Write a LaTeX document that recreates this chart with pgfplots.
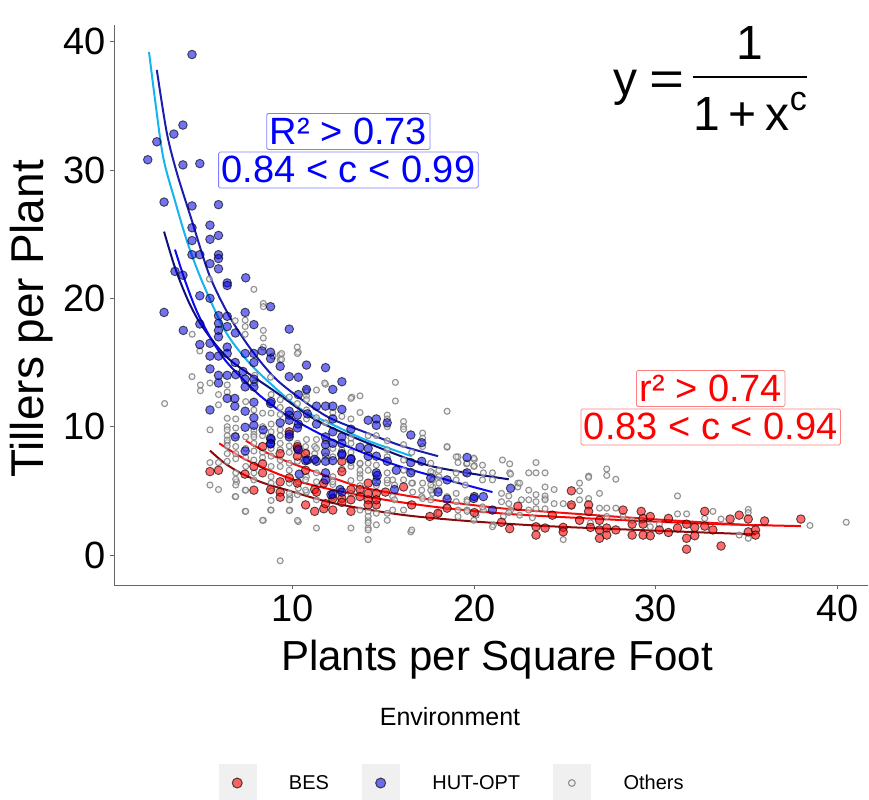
\RequirePackage{fix-cm}
\documentclass[border=0pt]{standalone}
\usepackage{fontspec}
\setmainfont{Liberation Sans}
\usepackage{pgfplots}
\usepackage{pgfplotstable}
\pgfplotsset{compat=1.18}

\definecolor{cyanline}{HTML}{14B4F0}
\definecolor{navytop}{HTML}{1C1CB0}
\definecolor{navyL}{HTML}{10107A}
\definecolor{blueL}{HTML}{0A0AF0}
\definecolor{redA}{HTML}{FF0000}
\definecolor{redB}{HTML}{F01010}
\definecolor{redD}{HTML}{8C0A0A}

\pgfplotstableread{
x y
2.0 30.8
2.5 32.2
3.44 32.8
3.94 33.5
3.94 30.4
4.87 30.5
4.44 39.0
2.9 27.5
4.44 27.2
5.9 27.3
4.44 25.5
5.43 25.7
4.44 24.5
5.43 24.6
5.9 24.9
4.44 23.4
4.87 23.4
5.9 23.4
5.9 23.1
5.43 22.7
5.9 22.3
3.5 22.1
3.94 21.8
6.38 21.2
6.38 21.0
7.4 21.6
4.87 20.2
5.43 20.0
8.77 19.35
2.9 18.9
7.37 18.9
5.9 18.65
6.38 18.6
4.87 18.0
5.9 18.05
7.85 17.95
9.8 17.6
3.96 17.5
5.9 17.5
6.38 17.8
6.83 17.3
5.9 17.0
4.87 16.4
5.43 16.5
6.38 16.2
5.43 15.5
5.9 15.5
6.38 15.7
6.82 15.0
7.37 15.7
7.85 15.7
7.85 15.0
8.3 15.9
8.77 15.8
8.77 15.3
9.3 14.7
11.8 14.6
10.75 14.8
5.43 14.5
5.9 14.0
6.38 14.0
6.85 14.05
7.25 14.3
7.37 13.7
7.85 13.7
9.8 13.9
10.3 13.85
12.7 13.5
12.2 12.9
7.37 13.1
7.85 13.1
5.9 13.4
10.75 12.9
6.38 12.2
6.8 12.2
6.8 11.6
8.77 11.8
10.3 12.5
5.43 11.3
7.37 11.2
7.85 11.9
8.8 11.95
7.85 10.7
7.85 10.1
9.8 10.9
9.8 10.5
9.8 11.2
9.3 10.3
10.3 10.2
10.25 10.9
10.8 11.0
11.3 11.6
11.3 10.2
11.8 11.6
12.2 11.6
12.2 10.6
12.7 11.35
14.15 10.5
14.6 10.6
15.2 10.3
14.6 10.1
13.2 9.8
7.37 9.95
6.82 9.2
8.77 9.1
8.77 8.7
8.36 9.75
8.8 9.0
7.37 8.1
9.8 9.2
9.8 9.4
10.25 9.9
10.3 8.2
10.8 7.4
11.3 7.3
11.8 9.2
11.8 8.6
11.8 8.0
11.8 7.3
12.2 9.6
12.2 8.7
12.7 9.2
12.7 8.7
12.7 7.9
13.2 7.5
13.7 8.4
14.15 8.3
14.15 7.7
14.6 7.7
15.2 7.3
14.6 6.4
14.6 5.7
15.7 6.6
16.5 9.35
17.1 8.75
16.5 7.2
16.5 6.4
17.1 7.3
17.6 6.0
18.0 4.9
18.5 5.85
18.5 4.35
19.6 7.6
19.6 6.4
20.0 4.55
20.5 4.55
21.0 3.5
22.0 5.2
15.6 5.1
12.1 4.7
12.6 5.1
10.35 6.3
10.7 7.35
11.2 7.45
12.2 7.35
12.7 7.8
13.2 7.45
14.65 6.2
11.8 6.4
11.8 5.85
12.2 4.75
12.7 4.9
8.77 8.65
19.97 4.4
}\bluedata

\pgfplotstableread{
x y
5.43 6.5
5.9 6.6
7.36 6.3
7.85 6.9
8.33 7.1
8.33 6.4
8.33 8.45
9.3 7.9
9.3 5.7
9.3 4.9
9.3 4.5
10.25 7.7
10.25 5.6
10.7 7.9
10.7 6.6
10.7 3.9
7.85 5.05
8.77 5.1
9.8 6.0
9.8 9.6
10.25 8.3
11.2 5.1
11.2 3.4
11.7 3.6
12.2 3.5
12.7 6.5
12.7 4.4
13.2 5.1
13.2 3.4
13.7 5.1
13.7 4.55
14.15 5.6
14.15 4.3
14.15 3.9
14.6 3.9
12.7 7.3
11.7 5.6
12.2 4.4
11.3 4.9
11.8 4.0
12.7 4.1
13.2 4.3
14.15 4.8
14.6 4.8
14.6 4.3
15.1 4.9
16.1 5.3
16.55 3.9
17.55 3.0
18.0 3.25
18.5 3.65
20.0 3.3
21.5 2.55
21.95 2.05
22.4 3.8
23.4 2.2
23.4 1.55
23.9 2.1
24.3 3.1
24.9 2.15
24.9 1.8
25.35 5.0
25.35 3.9
25.8 2.7
26.3 3.9
26.3 3.4
26.4 2.15
26.9 2.7
26.9 1.95
26.9 1.3
27.3 2.1
27.3 1.55
27.8 1.95
28.2 3.5
28.7 2.4
28.7 1.55
29.2 3.4
29.3 2.85
29.3 2.4
29.3 1.55
29.7 3.0
29.7 1.5
30.2 1.95
30.7 2.85
30.7 1.75
31.2 2.1
31.7 2.4
31.7 1.3
31.7 0.45
32.15 2.15
32.15 1.5
32.7 3.4
32.7 2.25
33.15 1.95
33.6 0.7
34.1 2.8
34.6 3.1
35.1 2.8
35.1 1.8
35.5 1.95
35.5 1.55
36.0 2.65
38.0 2.8
10.25 8.45
}\reddata

\pgfplotstableread{
x y
2.93 11.8
4.45 17.2
4.44 13.9
4.87 15.9
4.9 13.25
4.9 12.8
5.4 21.5
5.43 13.4
5.43 9.75
5.9 12.5
5.9 11.7
6.38 13.25
6.38 12.7
6.38 10.65
6.38 10.0
6.38 9.75
6.38 9.3
6.38 8.75
6.85 10.6
6.85 9.9
6.85 9.3
6.85 8.45
6.82 18.25
7.37 18.3
7.37 17.8
7.37 17.2
7.4 11.95
7.4 9.2
7.85 20.7
7.85 11.3
7.85 9.7
7.85 9.4
7.85 9.2
7.9 14.0
7.9 13.4
8.37 19.6
8.37 19.35
8.37 17.5
8.37 16.9
8.37 16.2
8.33 11.05
8.33 10.0
8.33 9.3
8.8 11.05
8.8 10.2
8.8 9.6
8.77 13.85
8.9 15.5
9.3 11.5
9.3 10.95
9.3 9.75
9.3 9.3
9.3 8.7
9.3 15.6
9.3 15.2
9.38 15.7
9.38 15.25
10.24 16.2
10.3 15.8
10.25 15.7
10.75 12.85
10.75 12.4
10.75 12.1
10.75 11.3
11.3 12.85
11.8 13.3
11.75 13.4
13.25 12.3
13.7 12.4
13.2 12.2
15.65 13.45
15.65 12.0
18.5 11.2
18.5 8.4
19.1 7.65
19.1 7.2
19.57 7.1
20.0 7.45
20.0 6.95
20.5 6.4
21.55 7.4
21.95 7.1
21.95 6.4
22.4 5.6
22.4 5.3
23.0 6.4
23.4 7.2
23.4 6.4
23.9 6.4
23.9 5.3
17.7 6.4
17.7 5.85
17.7 5.3
17.7 4.8
17.15 9.5
17.15 9.1
17.15 8.45
16.1 10.4
16.1 10.0
15.2 10.9
15.2 10.6
15.2 10.0
16.1 9.8
17.1 5.05
17.1 4.55
16.5 1.8
16.1 3.5
15.5 5.85
15.5 4.55
15.5 3.5
15.2 2.7
14.6 3.25
14.6 2.35
14.15 2.7
14.15 2.1
14.15 1.2
13.2 2.1
13.7 3.5
11.3 2.1
10.3 2.6
9.3 -0.45
8.37 2.7
7.37 3.4
6.82 4.55
5.9 5.1
5.43 5.45
5.43 7.2
5.9 7.2
6.9 5.7
7.37 5.05
8.77 3.5
9.83 3.5
9.83 4.55
9.83 4.3
10.3 5.7
10.3 5.2
10.75 7.4
10.75 6.1
10.75 4.9
11.3 6.4
11.3 5.7
11.3 4.3
12.2 6.1
12.2 5.5
12.2 4.5
13.2 6.9
13.2 5.8
13.2 4.8
13.7 7.1
13.7 6.3
13.7 5.4
14.6 6.0
14.6 5.4
15.2 6.4
15.2 5.6
16.1 5.85
16.6 5.6
16.6 4.9
18.5 4.55
18.5 3.75
19.1 3.5
19.1 3.0
19.6 4.3
19.6 3.5
20.1 3.1
20.5 3.5
21.05 2.35
21.6 3.0
22.0 3.5
22.6 4.3
23.0 3.5
23.2 2.9
23.4 4.7
23.4 3.6
23.9 4.4
23.9 3.6
6.38 8.95
6.38 8.5
6.85 7.5
6.85 6.4
6.85 5.9
6.85 5.45
6.85 4.55
7.4 5.05
7.4 3.4
7.85 8.7
7.85 7.4
7.85 6.4
7.85 5.85
8.33 2.7
8.8 6.9
8.8 6.1
8.8 5.6
8.8 5.0
8.8 4.25
8.8 3.5
9.3 6.9
9.8 7.15
9.8 6.6
9.8 5.6
9.8 4.8
9.8 4.3
9.8 3.45
10.25 8.7
10.25 8.2
10.25 4.7
10.25 2.7
10.7 8.45
10.7 5.85
10.7 5.05
11.2 8.45
11.2 7.9
12.2 7.65
12.2 5.7
13.7 7.15
13.7 6.6
13.7 6.0
14.15 7.15
14.15 3.4
14.15 3.0
14.15 2.5
14.15 1.95
15.2 3.25
15.2 7.65
15.2 5.85
15.6 5.45
15.6 4.3
16.1 7.4
16.1 6.6
16.55 6.5
16.55 5.6
16.55 1.95
17.15 5.6
17.15 4.4
17.6 7.15
17.6 6.5
17.6 5.45
17.6 5.05
17.6 4.3
18.05 6.6
18.05 6.1
18.05 5.6
18.05 5.05
18.05 3.25
18.5 8.45
19.0 7.65
19.0 6.4
19.0 5.85
19.0 4.8
19.0 4.15
19.6 7.15
19.6 4.15
19.6 3.4
19.5 6.4
19.5 5.45
19.97 7.55
19.97 6.9
19.97 2.7
20.45 7.0
20.45 5.85
20.45 3.75
21.0 6.4
21.0 5.85
21.0 2.2
21.5 4.8
21.5 4.15
21.9 4.6
21.9 4.0
21.9 3.3
22.5 5.6
22.5 3.1
23.0 5.05
23.0 4.3
23.4 4.15
23.9 4.6
23.9 4.3
24.4 5.1
24.4 4.0
24.9 4.0
24.9 1.2
25.35 3.8
25.8 5.6
25.8 5.0
25.8 4.3
26.3 6.15
26.3 6.05
26.3 4.4
26.9 4.8
26.9 3.65
27.3 6.7
27.3 6.2
27.3 3.65
27.3 3.0
27.8 5.9
27.8 3.65
28.2 3.0
28.7 2.7
29.2 2.7
31.2 4.6
31.2 3.2
31.7 3.2
32.7 2.85
33.15 3.4
33.6 2.8
34.6 1.55
35.1 3.55
35.1 3.3
35.1 1.3
38.5 2.3
40.5 2.55
30.2 2.4
29.7 2.2
26.4 2.5
22.0 6.3
10.75 12.7
14.15 9.3
14.6 9.3
13.2 9.1
13.2 8.7
6.38 7.9
6.38 7.3
6.85 7.9
7.4 8.3
7.4 7.6
7.4 6.9
7.85 8.1
8.33 8.0
8.33 7.6
8.8 8.3
8.8 7.7
9.3 8.2
9.3 7.4
9.8 8.5
9.8 8.0
10.25 7.3
10.75 8.0
10.75 9.0
11.3 9.0
11.3 8.3
11.8 8.9
11.8 7.7
12.2 8.3
12.7 8.2
12.7 6.7
13.2 8.0
13.2 7.2
14.15 6.6
14.6 7.0
15.2 8.2
15.2 8.9
16.1 8.6
16.55 8.0
11.3 10.7
10.75 10.6
11.8 10.3
12.2 11.1
12.7 10.8
13.2 10.6
13.7 11.1
9.3 12.1
8.8 12.5
9.8 12.3
10.25 11.8
}\graydata

\begin{document}
\begin{tikzpicture}
\path[use as bounding box] (0,0) rectangle (869bp,800bp);
\begin{axis}[
  at={(114bp,215bp)}, anchor=south west,
  scale only axis, width=754bp, height=560bp,
  xmin=0.14, xmax=41.7, ymin=-2.34, ymax=41.3,
  axis x line=bottom, axis y line=left,
  axis line style={-, draw=black!60, line width=0.9bp},
  xtick={10,20,30,40}, ytick={0,10,20,30,40},
  tick align=outside, major tick length=4bp,
  tick style={black!60, line width=0.9bp},
  /pgf/number format/assume math mode=true,
  ticklabel style={font=\fontsize{38bp}{40bp}\selectfont, text=black, inner sep=3bp},
  xticklabel style={yshift=-3bp},
  yticklabel style={xshift=-1bp},
  clip=false,
  legend columns=3,
  legend style={at={(0.447,-0.3536)}, anchor=center, draw=none, fill=none,
    font=\fontsize{20bp}{22bp}\selectfont, inner sep=0bp,
    nodes={inner sep=0bp},
    /tikz/every odd column/.append style={column sep=33bp},
    /tikz/every even column/.append style={column sep=33bp}},
  legend cell align=left,
  legend image code/.code={
    \fill[black!6] (0bp,-19bp) rectangle (37bp,19bp);
    \draw[mark repeat=2, mark phase=2, #1] plot coordinates {(0bp,0bp) (18.5bp,0bp) (37bp,0bp)};
  },
]
% Others
\addplot[only marks, mark=*, mark size=3bp,
  mark options={draw=black!50, draw opacity=0.85, fill=black!8, fill opacity=0.5, line width=1.1bp},
  forget plot] table {\graydata};
% BES
\addplot[only marks, mark=*, mark size=4.3bp,
  mark options={draw=black, draw opacity=0.65, fill=red, fill opacity=0.58, line width=0.9bp},
  forget plot] table {\reddata};
% HUT-OPT
\addplot[only marks, mark=*, mark size=4.3bp,
  mark options={draw=black, draw opacity=0.65, fill=blue!90!black, fill opacity=0.55, line width=0.9bp},
  forget plot] table {\bluedata};

% fitted curves
\addplot[cyanline, line width=2bp, smooth, forget plot] coordinates {
(2.07,39.2)(2.4,35.5)(2.85,31.0)(3.5,27.6)(4.2,24.3)(5.0,21.3)(6.25,17.5)(7.45,15.2)(8.73,13.4)(10.4,11.4)(12.2,10.15)(14.05,8.95)(16.55,7.7)};
\addplot[navytop, line width=2bp, smooth, forget plot] coordinates {
(2.5,37.8)(3.05,32.9)(3.6,29.8)(4.4,26.2)(5.4,21.8)(6.5,18.6)(7.7,16.0)(9.0,13.8)(10.4,12.2)(12.0,10.7)(14.1,9.5)(16.0,8.5)(18.0,7.7)};
\addplot[navyL, line width=2bp, smooth, forget plot] coordinates {
(2.9,25.2)(3.5,22.4)(4.2,19.9)(4.87,18.1)(5.8,16.3)(6.7,15.0)(8.9,12.85)(11.3,10.5)(14.6,8.45)(17.7,6.9)(21.9,5.9)};
\addplot[blueL, line width=2bp, smooth, forget plot] coordinates {
(3.5,23.8)(4.05,21.4)(4.7,19.0)(5.43,17.0)(6.2,15.3)(7.1,13.9)(8.2,12.4)(9.47,11.05)(10.8,9.95)(12.2,8.95)(14.0,7.9)(15.9,6.9)(18.5,5.85)(21.0,4.9)};
\addplot[redD, line width=2bp, smooth, forget plot] coordinates {
(5.43,8.13)(6.2,7.2)(7.1,6.4)(8.3,5.65)(9.65,5.07)(12.2,4.05)(15.9,3.15)(19.6,2.65)(24.0,2.25)(29.0,1.95)(35.5,1.6)};
\addplot[redA, line width=2bp, smooth, forget plot] coordinates {
(5.94,8.7)(7.63,7.27)(10.4,5.7)(14.05,4.55)(17.7,3.77)(21.4,3.25)(24.2,3.0)(29.2,2.65)(33.5,2.4)(38.0,2.25)};
\addplot[redB, line width=2bp, smooth, forget plot] coordinates {
(7.41,8.9)(8.8,7.8)(10.4,6.9)(12.2,6.0)(14.05,5.2)(17.7,4.3)(21.4,3.65)(24.2,3.35)(29.2,2.85)(32.5,2.55)(35.5,2.3)};

% legend
\addlegendimage{only marks, mark=*, mark size=5bp, mark options={draw=black, draw opacity=0.65, fill=red, fill opacity=0.58, line width=1bp}}
\addlegendentry{BES}
\addlegendimage{only marks, mark=*, mark size=5bp, mark options={draw=black, draw opacity=0.65, fill=blue!90!black, fill opacity=0.55, line width=1bp}}
\addlegendentry{HUT-OPT}
\addlegendimage{only marks, mark=*, mark size=3.4bp, mark options={draw=black!50, draw opacity=0.85, fill=black!8, fill opacity=0.5, line width=1.1bp}}
\addlegendentry{Others}

% annotations
\node[draw=blue!50, text=blue, fill=white, rounded corners=1.5bp, line width=0.8bp,
  font=\fontsize{38bp}{40bp}\selectfont, text height=28bp, text depth=2bp, inner ysep=3bp, inner xsep=3bp]
  at (axis cs:13.06,33.0) {R² > 0.73};
\node[draw=blue!50, text=blue, fill=white, rounded corners=1.5bp, line width=0.8bp,
  font=\fontsize{38bp}{40bp}\selectfont, text height=28bp, text depth=2bp, inner ysep=3bp, inner xsep=3bp]
  at (axis cs:13.06,30.0) {0.84 < c < 0.99};
\node[draw=red!50, text=red, fill=white, rounded corners=1.5bp, line width=0.8bp,
  font=\fontsize{38bp}{40bp}\selectfont, text height=28bp, text depth=2bp, inner ysep=3bp, inner xsep=3bp]
  at (axis cs:33.03,12.98) {r² > 0.74};
\node[draw=red!50, text=red, fill=white, rounded corners=1.5bp, line width=0.8bp,
  font=\fontsize{38bp}{40bp}\selectfont, text height=28bp, text depth=2bp, inner ysep=3bp, inner xsep=3bp]
  at (axis cs:33.03,9.98) {0.83 < c < 0.94};
\end{axis}

% axis titles
\node[font=\fontsize{42bp}{44bp}\selectfont] at (497bp,140bp) {Plants per Square Foot};
\node[font=\fontsize{46bp}{48bp}\selectfont, rotate=90] at (32bp,481bp) {Tillers per Plant};
\node[font=\fontsize{25bp}{27bp}\selectfont] at (450bp,83.5bp) {Environment};

% equation
\node[font=\fontsize{48bp}{56bp}\selectfont, inner sep=0pt] at (710bp,716bp) {%
  y\hspace{12bp}\scalebox{1.25}[1]{=}\hspace{9bp}\setlength{\arrayrulewidth}{1.3bp}\begin{tabular}{@{}c@{}}1\\\hline\rule{0pt}{53bp}1\hspace{9bp}+\hspace{9bp}x\raisebox{20bp}{\fontsize{34bp}{34bp}\selectfont c}\end{tabular}};
\end{tikzpicture}
\end{document}
